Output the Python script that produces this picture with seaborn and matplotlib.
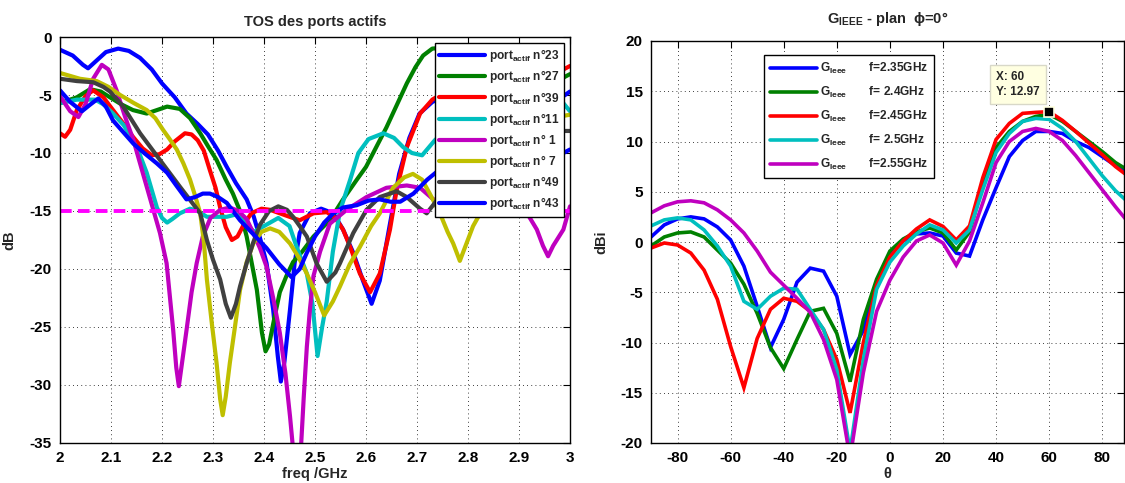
import numpy as np
import seaborn as sns
import matplotlib.pyplot as plt

# ---------------- left panel : TOS des ports actifs (freq GHz / dB) ----------------
f_23 = [2.000, 2.025, 2.045, 2.055, 2.070, 2.090, 2.114, 2.135, 2.157, 2.180, 2.200, 2.225, 2.248, 2.270,
        2.290, 2.310, 2.327, 2.345, 2.366, 2.380, 2.392, 2.405, 2.418, 2.427, 2.433, 2.440, 2.451, 2.460,
        2.470, 2.490, 2.512, 2.536, 2.555, 2.575, 2.594, 2.611, 2.627, 2.647, 2.665, 2.685, 2.705, 2.730,
        2.760, 2.800, 2.850, 2.900, 2.950, 2.987, 3.000]
db_23 = [-1.1, -1.6, -2.4, -2.7, -2.1, -1.3, -1.0, -1.2, -1.8, -2.8, -4.0, -5.2, -6.6, -7.5,
         -8.4, -9.8, -11.2, -12.6, -14.0, -15.5, -17.3, -19.5, -23.5, -27.5, -29.7, -28.0, -23.5, -19.5,
         -16.9, -15.2, -14.8, -15.2, -16.6, -18.6, -21.0, -23.0, -21.0, -16.1, -11.8, -8.7, -6.6, -5.6,
         -5.0, -4.7, -4.6, -4.7, -4.9, -5.1, -4.7]

f_27 = [2.000, 2.033, 2.059, 2.080, 2.098, 2.120, 2.143, 2.170, 2.190, 2.210, 2.235, 2.255, 2.275, 2.290,
        2.307, 2.325, 2.339, 2.353, 2.366, 2.376, 2.386, 2.396, 2.403, 2.410, 2.420, 2.431, 2.444, 2.457,
        2.475, 2.497, 2.529, 2.555, 2.582, 2.600, 2.620, 2.640, 2.660, 2.680, 2.697, 2.712, 2.730, 2.760,
        2.800, 2.850, 2.900, 2.950, 2.987, 3.000]
db_27 = [-5.7, -5.2, -4.5, -4.7, -5.2, -5.8, -6.3, -6.6, -6.3, -6.0, -6.2, -7.0, -8.3, -9.4,
         -10.6, -12.3, -13.5, -15.0, -17.2, -19.5, -21.8, -25.5, -27.1, -26.5, -24.3, -22.0, -20.6, -19.4,
         -18.5, -17.2, -15.8, -14.0, -12.3, -11.2, -9.5, -7.8, -5.9, -4.0, -2.6, -1.6, -1.0, -0.9,
         -1.3, -1.9, -2.5, -3.1, -3.5, -3.2]

f_39 = [2.000, 2.010, 2.020, 2.033, 2.050, 2.065, 2.085, 2.104, 2.125, 2.143, 2.162, 2.180, 2.195, 2.210,
        2.225, 2.245, 2.258, 2.270, 2.282, 2.294, 2.305, 2.314, 2.325, 2.337, 2.348, 2.360, 2.375, 2.395,
        2.412, 2.431, 2.450, 2.470, 2.497, 2.523, 2.540, 2.555, 2.569, 2.588, 2.608, 2.627, 2.647, 2.660,
        2.680, 2.706, 2.730, 2.760, 2.800, 2.850, 2.900, 2.950, 2.987, 3.000]
db_39 = [-8.3, -8.6, -8.0, -6.3, -5.1, -4.6, -5.2, -6.3, -7.5, -8.6, -9.6, -10.2, -10.1, -9.7,
         -9.0, -8.3, -8.4, -8.9, -9.8, -11.5, -13.0, -14.7, -16.4, -17.5, -17.2, -16.2, -15.2, -14.8,
         -14.9, -15.2, -15.5, -15.8, -15.2, -15.1, -15.6, -16.6, -18.1, -20.4, -22.0, -20.4, -16.6, -13.2,
         -9.5, -6.6, -5.4, -4.6, -3.9, -3.4, -3.1, -2.9, -2.8, -2.5]

f_11 = [2.000, 2.033, 2.069, 2.085, 2.104, 2.125, 2.143, 2.157, 2.170, 2.180, 2.190, 2.200, 2.210, 2.220,
        2.235, 2.255, 2.270, 2.288, 2.310, 2.327, 2.345, 2.362, 2.380, 2.400, 2.428, 2.450, 2.464, 2.484,
        2.495, 2.505, 2.514, 2.523, 2.535, 2.549, 2.569, 2.585, 2.605, 2.634, 2.655, 2.673, 2.690, 2.710,
        2.735, 2.770, 2.820, 2.870, 2.920, 2.960, 2.985, 3.000]
db_11 = [-5.7, -5.4, -5.4, -5.8, -6.6, -7.6, -8.9, -10.2, -11.7, -13.2, -14.7, -15.6, -16.0, -15.7,
         -15.2, -14.8, -15.0, -15.5, -15.5, -15.5, -15.3, -15.8, -16.8, -16.3, -15.6, -16.3, -18.1, -20.4,
         -23.0, -27.5, -25.0, -22.8, -18.5, -15.0, -12.3, -10.0, -8.8, -8.3, -8.7, -9.5, -10.0, -10.2,
         -8.9, -7.5, -6.5, -6.0, -5.7, -5.5, -5.6, -6.4]

f_1 = [2.000, 2.020, 2.036, 2.050, 2.065, 2.082, 2.095, 2.111, 2.127, 2.144, 2.157, 2.170, 2.183, 2.196,
       2.209, 2.222, 2.228, 2.233, 2.238, 2.248, 2.258, 2.268, 2.280, 2.295, 2.314, 2.333, 2.350, 2.366,
       2.379, 2.392, 2.405, 2.418, 2.431, 2.442, 2.451, 2.458, 2.466, 2.473, 2.478, 2.484, 2.490, 2.497,
       2.510, 2.529, 2.562, 2.601, 2.640, 2.680, 2.706, 2.732, 2.770, 2.820, 2.870, 2.905, 2.920, 2.935,
       2.947, 2.957, 2.967, 2.987, 3.000]
db_1 = [-5.1, -6.4, -6.9, -5.8, -3.6, -2.4, -2.8, -4.6, -6.8, -8.9, -10.9, -12.9, -14.9, -16.9,
        -19.5, -25.3, -28.5, -30.1, -28.5, -25.3, -22.0, -19.5, -17.2, -15.6, -14.9, -14.7, -15.0, -15.7,
        -16.9, -18.2, -19.8, -22.5, -25.5, -29.0, -32.7, -36.0, -38.0, -35.0, -31.0, -26.7, -23.5, -20.6,
        -18.5, -16.1, -14.9, -13.8, -13.0, -12.8, -13.0, -14.0, -14.2, -13.6, -13.4, -14.6, -15.5, -16.6,
        -18.0, -18.9, -18.0, -16.6, -14.6]

f_7 = [2.000, 2.039, 2.072, 2.095, 2.118, 2.145, 2.170, 2.187, 2.202, 2.215, 2.229, 2.242, 2.255, 2.265,
       2.275, 2.282, 2.288, 2.298, 2.307, 2.314, 2.319, 2.325, 2.333, 2.343, 2.353, 2.366, 2.379, 2.395,
       2.412, 2.430, 2.451, 2.468, 2.484, 2.500, 2.518, 2.535, 2.549, 2.568, 2.588, 2.610, 2.627, 2.653,
       2.675, 2.692, 2.710, 2.725, 2.745, 2.760, 2.771, 2.784, 2.797, 2.810, 2.824, 2.840, 2.870, 2.920,
       2.960, 3.000]
db_7 = [-3.1, -3.6, -3.8, -4.3, -5.0, -5.7, -6.3, -7.0, -8.0, -8.8, -9.7, -10.9, -12.3, -13.7,
        -15.2, -17.6, -20.9, -24.8, -28.1, -31.2, -32.6, -31.0, -28.1, -25.0, -21.8, -19.4, -17.8, -16.8,
        -16.5, -16.8, -17.8, -19.0, -20.4, -22.0, -24.0, -22.8, -21.5, -19.6, -18.1, -16.3, -15.2, -13.0,
        -12.1, -11.8, -12.3, -13.5, -15.2, -16.8, -17.8, -19.3, -17.8, -16.3, -15.2, -13.5, -10.5, -8.0,
        -7.0, -6.7]

f_49 = [2.000, 2.033, 2.065, 2.085, 2.098, 2.124, 2.157, 2.196, 2.235, 2.275, 2.288, 2.300, 2.314, 2.325,
        2.335, 2.345, 2.353, 2.366, 2.379, 2.392, 2.410, 2.428, 2.445, 2.457, 2.470, 2.484, 2.503, 2.523,
        2.540, 2.549, 2.562, 2.575, 2.601, 2.627, 2.660, 2.680, 2.706, 2.719, 2.735, 2.770, 2.820, 2.880,
        2.940, 3.000]
db_49 = [-3.6, -3.8, -3.9, -4.3, -4.7, -6.0, -8.3, -10.6, -12.9, -15.2, -17.5, -19.2, -20.9, -23.0,
         -24.2, -23.0, -21.5, -19.5, -17.7, -16.2, -15.0, -14.6, -14.9, -15.5, -16.3, -17.2, -19.5, -21.1,
         -20.3, -19.5, -18.2, -16.9, -14.9, -13.8, -13.3, -13.8, -14.8, -15.2, -14.3, -12.0, -9.5, -8.3,
         -8.1, -8.1]

f_43 = [2.000, 2.020, 2.043, 2.060, 2.075, 2.090, 2.104, 2.124, 2.144, 2.165, 2.190, 2.210, 2.228, 2.248,
        2.265, 2.280, 2.294, 2.310, 2.327, 2.353, 2.379, 2.405, 2.430, 2.454, 2.470, 2.484, 2.500, 2.518,
        2.536, 2.555, 2.582, 2.605, 2.627, 2.648, 2.667, 2.693, 2.720, 2.745, 2.800, 2.850, 2.900, 2.950,
        2.987, 3.000]
db_43 = [-4.6, -5.6, -6.4, -5.8, -5.3, -6.0, -7.2, -8.2, -9.2, -10.0, -10.9, -11.7, -12.8, -14.0,
         -13.8, -13.5, -13.5, -13.8, -14.3, -15.8, -17.0, -18.2, -19.6, -20.7, -20.0, -18.6, -17.2, -16.0,
         -15.2, -14.7, -14.5, -14.1, -14.0, -14.2, -14.2, -13.5, -12.3, -11.4, -10.8, -10.5, -10.3, -10.1,
         -10.0, -9.7]

port_ids = ["23", "27", "39", "11", " 1", " 7", "49", "43"]
port_freqs = [f_23, f_27, f_39, f_11, f_1, f_7, f_49, f_43]
port_db = [db_23, db_27, db_39, db_11, db_1, db_7, db_49, db_43]
port_colors = ["#0000ff", "#008000", "#ff0000", "#00bfbf", "#bf00bf", "#bfbf00", "#404040", "#0000ff"]
tos_limit = -15

# ---------------- right panel : G_IEEE, plan phi=0 ----------------
theta = [-90, -85, -80, -75, -70, -65, -60, -55, -50, -45, -40, -35, -30, -25, -20, -15, -10, -5, 0,
         5, 10, 15, 20, 25, 30, 35, 40, 45, 50, 55, 60, 65, 70, 75, 80, 85, 90]
g_235 = [0.5, 1.7, 2.3, 2.5, 2.3, 1.5, 0.2, -2.4, -6.4, -10.5, -7.7, -4.0, -2.6, -2.9, -5.4, -11.2,
         -8.8, -4.0, -1.3, 0.1, 0.8, 0.9, 0.6, -1.1, -1.4,
         2.2, 5.4, 8.5, 10.1, 11.0, 11.0, 10.8, 10.0, 9.4, 8.5, 7.6, 6.8]
g_240 = [-0.4, 0.5, 0.9, 1.0, 0.5, -0.8, -2.1, -4.2, -7.1, -10.5, -12.6, -9.7, -6.9, -6.6, -9.1, -13.9,
         -7.7, -3.7, -0.9, 0.3, 1.0, 1.4, 0.9, -0.8, 1.0,
         5.6, 9.4, 11.0, 12.0, 12.5, 12.7, 12.0, 11.0, 10.0, 9.0, 7.9, 7.1]
g_245 = [-0.6, -0.1, -0.3, -1.1, -2.8, -5.7, -10.4, -14.5, -9.6, -6.7, -5.6, -5.9, -6.9, -8.7, -11.7, -17.0,
         -10.0, -4.3, -1.5, 0.1, 1.3, 2.2, 1.55, 0.2, 1.6,
         6.4, 10.2, 11.8, 12.8, 12.9, 12.97, 12.1, 11.0, 9.85, 8.7, 7.5, 6.5]
g_250 = [1.6, 2.2, 2.4, 2.2, 1.2, -0.4, -2.4, -5.9, -6.7, -5.4, -4.6, -4.7, -6.7, -8.7, -12.7, -20.8,
         -11.7, -4.7, -2.0, -0.4, 0.8, 1.7, 1.2, -0.1, 1.2,
         5.2, 8.9, 10.8, 12.0, 12.3, 12.2, 11.3, 10.0, 8.3, 6.6, 5.1, 3.9]
g_255 = [2.9, 3.6, 4.0, 4.1, 3.9, 3.2, 2.2, 0.9, -0.9, -3.0, -4.3, -5.6, -7.0, -9.7, -13.7, -21.5,
         -13.0, -6.9, -3.8, -1.5, 0.1, 0.7, -0.1, -2.3, 0.1,
         3.9, 7.9, 10.0, 11.0, 11.3, 11.0, 10.1, 8.6, 6.9, 5.2, 3.5, 1.9]

gain_series = [g_235, g_240, g_245, g_250, g_255]
gain_labels = ["f=2.35GHz", "f= 2.4GHz", "f=2.45GHz", "f= 2.5GHz", "f=2.55GHz"]
gain_colors = ["#0000ff", "#008000", "#ff0000", "#00bfbf", "#bf00bf"]

# ---------------- style ----------------
sns.set_style("white")
plt.rcParams.update({
    "font.family": ["Liberation Sans", "DejaVu Sans"],
    "font.weight": "bold",
    "axes.labelweight": "bold",
    "axes.titleweight": "bold",
    "axes.unicode_minus": False,
    "mathtext.fontset": "custom",
    "mathtext.rm": "Liberation Sans:bold",
    "mathtext.it": "Liberation Sans:bold",
    "mathtext.bf": "Liberation Sans:bold",
    "mathtext.default": "regular",
})

W, H = 1125, 483
fig = plt.figure(figsize=(W / 100, H / 100), dpi=100)
ax1 = fig.add_axes([60 / W, 40 / H, 510 / W, 406 / H])
ax2 = fig.add_axes([651 / W, 40 / H, 473 / W, 402 / H])


def style_axes(ax):
    ax.grid(True, linestyle=(0, (1, 4)), color="black", linewidth=0.6)
    ax.set_axisbelow(True)
    for sp in ax.spines.values():
        sp.set_color("black")
        sp.set_linewidth(1.0)
        sp.set_visible(True)
    ax.tick_params(direction="in", length=5, width=0.8, top=True, right=True,
                   labelsize=11, pad=6, colors="black")
    for lab in ax.get_xticklabels() + ax.get_yticklabels():
        lab.set_fontweight("bold")


# left panel
for pid, fx, dbv, col in zip(port_ids, port_freqs, port_db, port_colors):
    sns.lineplot(x=fx, y=dbv, ax=ax1, color=col, linewidth=3, estimator=None, sort=False,
                 label=r"port$_{\mathregular{actif}}$ n°" + pid,
                 solid_joinstyle="round", solid_capstyle="round")
ax1.axhline(tos_limit, color="#ff00ff", linewidth=2.8, linestyle=(0, (3, 1.6)))
ax1.set_xlim(2, 3)
ax1.set_ylim(-35, 0)
ax1.set_xticks(np.arange(2, 3.01, 0.1))
ax1.set_xticklabels(["2", "2.1", "2.2", "2.3", "2.4", "2.5", "2.6", "2.7", "2.8", "2.9", "3"])
ax1.set_yticks(np.arange(-35, 1, 5))
ax1.set_title("TOS des ports actifs", fontsize=10.5, pad=8)
ax1.set_xlabel("freq /GHz", fontsize=10.5, labelpad=1)
ax1.set_ylabel("dB", fontsize=10.5)
ax1.yaxis.set_label_coords(-0.085, 0.5)
style_axes(ax1)
leg1 = ax1.legend(loc="upper right", fontsize=8.6, handlelength=3.9, handletextpad=0.3,
                  labelspacing=0.35, borderpad=0.35, borderaxespad=0.5, frameon=True,
                  fancybox=False, framealpha=1)
leg1.get_frame().set_edgecolor("black")
leg1.get_frame().set_linewidth(1.0)

# right panel
for gv, lab, col in zip(gain_series, gain_labels, gain_colors):
    sns.lineplot(x=theta, y=gv, ax=ax2, color=col, linewidth=2.6, estimator=None, sort=False,
                 label=r"G$_{\mathregular{Ieee}}$" + "       " + lab,
                 solid_joinstyle="miter")
peak = int(np.argmax(g_245))
px, py = theta[peak], g_245[peak]
ax2.plot(px, py, marker="s", markersize=7, color="black", markeredgecolor="#ffffe0",
         markeredgewidth=1.2, zorder=6)
ax2.annotate(f"X: {px}\nY: {py:.2f}", xy=(px, py), xytext=(-53, 27), textcoords="offset pixels",
             ha="left", va="center", fontsize=8.5, fontweight="bold", linespacing=1.35, zorder=7,
             bbox=dict(boxstyle="square,pad=0.5", fc="#ffffe1", ec="#d8d8c8", lw=1))
ax2.set_xlim(-90, 88.2)
ax2.set_ylim(-20, 20)
ax2.set_xticks(np.arange(-80, 81, 20))
ax2.set_yticks(np.arange(-20, 21, 5))
ax2.set_title(r"G$_{\mathregular{IEEE}}$ - plan  ϕ=0°", fontsize=10.5, pad=13)
ax2.set_xlabel("θ", fontsize=10.5, labelpad=1)
ax2.set_ylabel("dBi", fontsize=10.5)
ax2.yaxis.set_label_coords(-0.09, 0.5)
style_axes(ax2)
leg2 = ax2.legend(loc="upper left", bbox_to_anchor=(0.239, 0.965), fontsize=8.6, handlelength=3.9,
                  handletextpad=0.3, labelspacing=0.75, borderpad=0.5, borderaxespad=0,
                  frameon=True, fancybox=False, framealpha=1)
leg2.get_frame().set_edgecolor("black")
leg2.get_frame().set_linewidth(1.0)

fig.savefig("out.png", dpi=100)
